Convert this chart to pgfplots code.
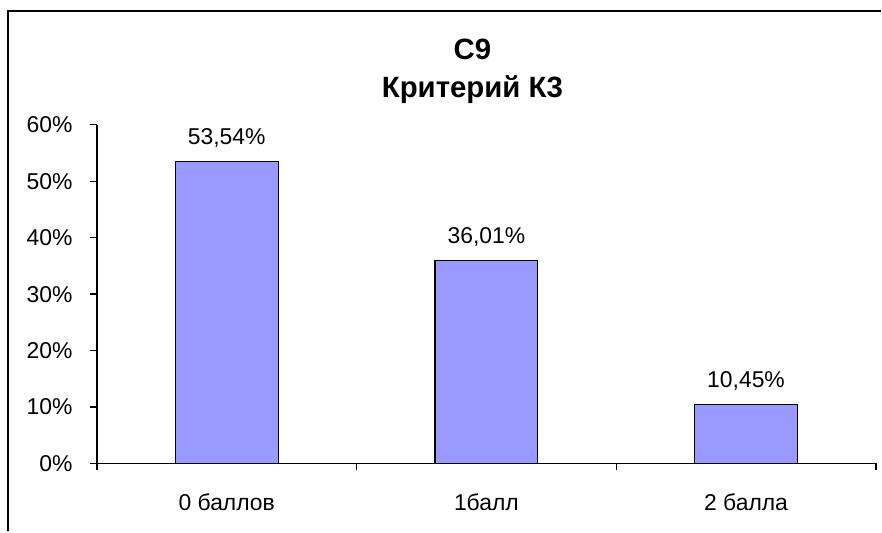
\documentclass[border=0pt]{standalone}
\usepackage{fontspec}
\setmainfont{Liberation Sans}
\usepackage{pgfplots}
\pgfplotsset{compat=1.18}
\definecolor{barfill}{HTML}{9999FF}
\begin{document}
\begin{tikzpicture}[x=1bp,y=1bp]
\fill[white] (0,0) rectangle (882,-532);
\draw[line width=2.3bp] (7.8,-532) -- (7.8,-11) -- (882,-11);
\node[anchor=base,font=\fontsize{29.5}{33}\selectfont\bfseries] at (473,-60) {С9};
\node[anchor=base,font=\fontsize{29.5}{33}\selectfont\bfseries] at (473,-98) {Критерий К3};
\begin{axis}[
  at={(97bp,-464bp)}, anchor=south west,
  scale only axis, width=780bp, height=339bp,
  xmin=-0.5, xmax=2.5, ymin=0, ymax=60,
  axis lines*=left,
  axis line style={line width=1.3bp, black},
  every tick/.style={black, line width=1.3bp},
  tick align=outside, major tick length=7bp,
  ytick={0,10,20,30,40,50,60},
  yticklabels={0\%,10\%,20\%,30\%,40\%,50\%,60\%},
  yticklabel style={anchor=east, xshift=-14bp},
  xtick={-0.5,0.5,1.5,2.5},
  xticklabels={},
  extra x ticks={0,1,2},
  extra x tick labels={0 баллов,1балл,2 балла},
  extra x tick style={tick style={draw=none}},
  xticklabel style={anchor=north, yshift=-20bp},
  ticklabel style={font=\fontsize{23}{27}\selectfont},
  /pgf/number format/assume math mode=true,
  clip=false,
  ybar, bar width=103bp,
  point meta=explicit symbolic,
  nodes near coords,
  nodes near coords style={font=\fontsize{23}{27}\selectfont, yshift=10bp, black},
]
\addplot[fill=barfill, draw=black, line width=1.2bp] coordinates {
  (0,53.54) [53,54\%]
  (1,36.01) [36,01\%]
  (2,10.45) [10,45\%]
};
\end{axis}
\end{tikzpicture}
\end{document}
